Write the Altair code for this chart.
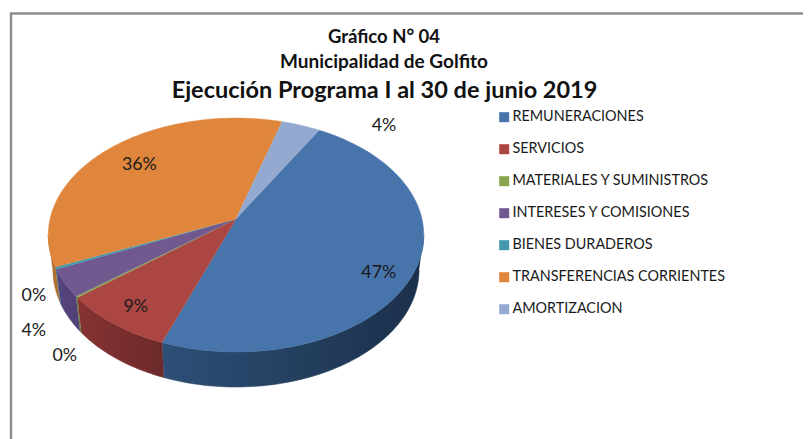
import math
import altair as alt
import pandas as pd

categories = ["REMUNERACIONES", "SERVICIOS", "MATERIALES Y SUMINISTROS",
              "INTERESES Y COMISIONES", "BIENES DURADEROS",
              "TRANSFERENCIAS CORRIENTES", "AMORTIZACION"]
values = [47.3, 8.6, 0.2, 3.8, 0.3, 36.0, 3.8]
labels = ["47%", "9%", "0%", "4%", "0%", "36%", "4%"]
colors = ["#4674AB", "#AB4643", "#89A54E", "#71588F", "#4198AF", "#DF863C", "#93A9CF"]
wall_stops = [["#2E4F78", "#24405F", "#1B2F4A"], ["#863232", "#7A2E2E", "#6C2A2A"],
              ["#6E7F3E", "#6E7F3E", "#6E7F3E"], ["#56457F", "#54437A", "#514075"],
              ["#34798C", "#34798C", "#34798C"], ["#A8682F", "#B0702F", "#B0702F"]]
label_dx = [-36, 22, -12, -31, -22, 31, 83]
label_dy = [2, -17, 59, 48, 28, 16, 1]
title_lines = ["Gráfico N° 04", "Municipalidad de Golfito", "Ejecución Programa I al 30 de junio 2019"]

# perspective model of the tilted pie, in page pixels
HUB_X, HUB_Y, RX, A, K = 236, 219, 186, 114.8, 0.137
START, DEPTH, FOOT = 30.0, 35, 0.975
W, H = 795, 431
FONT = "Lato"


def project(theta):
    t = math.radians(theta)
    w = 1 + K * math.cos(t)
    return RX * math.sin(t) / w, A * math.cos(t) / w


def rim(a0, a1):
    n = max(2, int(abs(a1 - a0)) + 2)
    return [a0 + (a1 - a0) * i / (n - 1) for i in range(n)]


total = sum(values)
edges = [START]
for v in values:
    edges.append(edges[-1] + v * 360 / total)

top_rows, label_rows, walls = [], [], []
for i, cat in enumerate(categories):
    a0, a1 = edges[i], edges[i + 1]
    pts = [(HUB_X, HUB_Y)] + [(HUB_X + project(a)[0], HUB_Y - project(a)[1]) for a in rim(a0, a1)]
    for j, (x, y) in enumerate(pts):
        top_rows.append({"cat": cat, "i": j, "x": x, "y": y})
    mx, my = project((a0 + a1) / 2)
    label_rows.append({"t": labels[i], "x": HUB_X + mx + label_dx[i], "y": HUB_Y - my + label_dy[i]})
    lo, hi = max(a0, 97.9), min(a1, 262.1)
    if hi > lo:
        rows = []
        arc = rim(lo, hi)
        for a in arc:
            px, py = project(a)
            rows.append({"x": HUB_X + px, "y": HUB_Y - py})
        for a in reversed(arc):
            px, py = project(a)
            rows.append({"x": HUB_X + px * FOOT, "y": HUB_Y - py + DEPTH})
        for j, r in enumerate(rows):
            r["i"] = j
        walls.append((i, rows))

xs = alt.Scale(domain=[8, 8 + W], range=[0, W])
ys = alt.Scale(domain=[8, 8 + H], range=[0, H])
X = alt.X("x:Q", scale=xs, axis=None)
Y = alt.Y("y:Q", scale=ys, axis=None)
cscale = alt.Scale(domain=categories, range=colors)

layers = []
# frame
frame = pd.DataFrame([{"x": 10, "x2": 8 + W, "y": 13.5, "y2": 13.5}, {"x": 11, "x2": 11, "y": 13, "y2": 8 + H}])
layers.append(alt.Chart(frame).mark_rule(color="#8C8C8C", strokeWidth=2.5).encode(
    x=X, x2="x2:Q", y=Y, y2="y2:Q"))

# legend carrier
layers.append(alt.Chart(pd.DataFrame({"cat": categories, "x": [236] * 7, "y": [219] * 7})).mark_square(
    size=0, opacity=1).encode(
    x=X, y=Y,
    fill=alt.Fill("cat:N", scale=cscale, legend=alt.Legend(
        title=None, orient="none", legendX=489, legendY=102, symbolType="square", symbolSize=100,
        symbolStrokeWidth=0, symbolOffset=0, rowPadding=17, labelFont=FONT, labelFontSize=14.4,
        labelColor="#1a1a1a", labelOffset=1, labelLimit=300, values=categories)),
))

# side walls
for i, rows in walls:
    s = wall_stops[i]
    grad = alt.Gradient(gradient="linear", x1=0, x2=1, y1=0, y2=0, stops=[
        alt.GradientStop(offset=0, color=s[0]), alt.GradientStop(offset=0.5, color=s[1]),
        alt.GradientStop(offset=1, color=s[2])])
    layers.append(alt.Chart(pd.DataFrame(rows)).mark_line(fill=grad, stroke=s[1], strokeWidth=0.5).encode(
        x=X, y=Y, order="i:Q"))

# top faces
layers.append(alt.Chart(pd.DataFrame(top_rows)).mark_line(strokeWidth=0.4).encode(
    x=X, y=Y, order="i:Q",
    fill=alt.Fill("cat:N", scale=cscale, legend=None),
    stroke=alt.Stroke("cat:N", scale=cscale, legend=None)))

# percentage labels
layers.append(alt.Chart(pd.DataFrame(label_rows)).mark_text(
    font=FONT, fontSize=17.8, color="#1a1a1a", align="center", baseline="middle").encode(
    x=X, y=Y, text="t:N"))

# titles
title_df = pd.DataFrame({"t": title_lines, "x": [384, 384, 384.5], "y": [37, 62, 91], "s": [18.5, 19, 23.5]})
layers.append(alt.Chart(title_df).mark_text(
    font=FONT, fontWeight="bold", color="#111111", align="center", baseline="middle").encode(
    x=X, y=Y, text="t:N", size=alt.Size("s:Q", scale=None, legend=None)))

chart = alt.layer(*layers).resolve_scale(fill="shared").properties(
    width=W, height=H, padding=0, autosize=alt.AutoSizeParams(type="none"),
    background="white").configure_view(stroke=None)
chart.save("out.html", embed_options={"renderer": "svg", "actions": False})
